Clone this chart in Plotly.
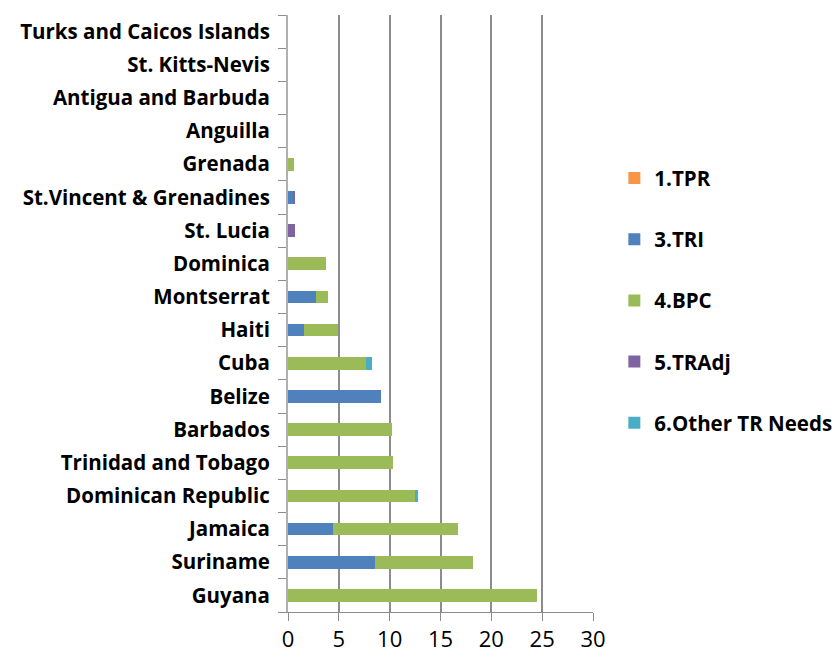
import plotly.graph_objects as go

countries = ["Guyana", "Suriname", "Jamaica", "Dominican Republic", "Trinidad and Tobago",
             "Barbados", "Belize", "Cuba", "Haiti", "Montserrat", "Dominica", "St. Lucia",
             "St.Vincent & Grenadines", "Grenada", "Anguilla", "Antigua and Barbuda",
             "St. Kitts-Nevis", "Turks and Caicos Islands"]

tpr   = [0, 0, 0, 0, 0, 0, 0, 0, 0, 0, 0, 0, 0, 0, 0, 0, 0, 0]
tri   = [0, 8.55, 4.4, 0, 0, 0, 9.15, 0, 1.55, 2.75, 0, 0, 0.55, 0, 0, 0, 0, 0]
bpc   = [24.5, 9.65, 12.3, 12.5, 10.3, 10.2, 0, 7.65, 3.35, 1.15, 3.7, 0, 0, 0.6, 0, 0, 0, 0]
tradj = [0, 0, 0, 0, 0, 0, 0, 0, 0, 0, 0, 0.7, 0.15, 0, 0, 0, 0, 0]
other = [0, 0, 0, 0.3, 0, 0, 0, 0.6, 0, 0, 0, 0, 0, 0, 0, 0, 0, 0]

series = [
    ("1.TPR", tpr, "#F79646"),
    ("3.TRI", tri, "#4F81BD"),
    ("4.BPC", bpc, "#9BBB59"),
    ("5.TRAdj", tradj, "#8064A2"),
    ("6.Other TR Needs", other, "#4BACC6"),
]

x_ticks = [0, 5, 10, 15, 20, 25, 30]

fig = go.Figure()
for i, (name, vals, col) in enumerate(series):
    fig.add_trace(go.Bar(
        y=countries, x=vals, name=name, orientation="h",
        marker=dict(color=col, line=dict(width=0)),
        legendgroup=f"g{i}",
    ))

fig.update_layout(
    barmode="stack",
    bargap=0.62,
    width=840, height=661,
    margin=dict(l=288, r=247, t=15, b=49, autoexpand=False),
    plot_bgcolor="white",
    paper_bgcolor="white",
    font=dict(family="Open Sans", color="#000000"),
    legend=dict(
        x=1.07, y=0.76, xanchor="left", yanchor="top",
        font=dict(size=20.5, family="Open Sans", weight="bold"),
        tracegroupgap=31.5,
        traceorder="grouped",
        itemwidth=30,
    ),
    xaxis=dict(
        range=[0, 30], tickvals=x_ticks, ticktext=[str(v) for v in x_ticks],
        showgrid=True, gridcolor="#8c8c8c", gridwidth=1.5,
        showline=True, linecolor="#8c8c8c", linewidth=1,
        ticks="outside", ticklen=8, tickcolor="#8c8c8c",
        tickfont=dict(size=22, family="Open Sans"),
        zeroline=False,
        ticklabelstandoff=0,
        automargin=False,
    ),
    yaxis=dict(
        type="category", categoryorder="array", categoryarray=countries,
        showline=True, linecolor="#b0b0b0", linewidth=2,
        ticks="outside", ticklen=8, tickcolor="#8c8c8c",
        tickson="boundaries",
        tickfont=dict(size=20.5, family="Open Sans", weight="bold"),
        showgrid=False,
        ticklabelstandoff=12,
        automargin=False,
    ),
)

fig.write_html("out.html", config={"displayModeBar": False},
               post_script="document.body.style.margin='0';document.body.style.overflow='hidden';")
